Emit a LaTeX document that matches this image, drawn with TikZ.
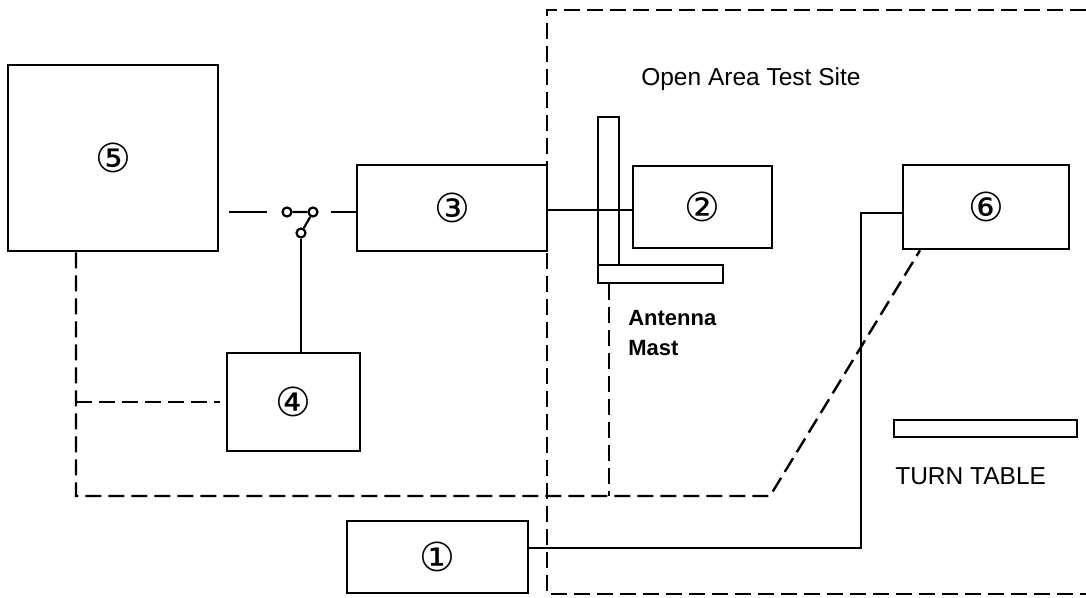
\documentclass[tikz,border=0pt]{standalone}
\usepackage{fontspec}
\setmainfont{Liberation Sans}
\newfontfamily\circfont{DejaVu Sans}
\usetikzlibrary{positioning}

\begin{document}
\begin{tikzpicture}[x=1pt,y=-1pt,line width=2.6pt,
    font=\fontsize{24.5}{30}\selectfont,
    wire/.style={line width=2.2pt},
    ctrl/.style={line width=2.4pt,dash pattern=on 16pt off 7pt}]
    \tikzstyle{unit}=[draw,rectangle,inner sep=0pt,font=\circfont\fontsize{40}{40}\selectfont]
    \tikzstyle{bar}=[draw,rectangle,inner sep=0pt]
    \tikzstyle{contact}=[draw,circle,line width=2.2pt,inner sep=0pt,minimum size=9pt]
    \tikzstyle{caption}=[inner sep=0pt,anchor=west]

    \useasboundingbox (0,0) rectangle (1086,597);

    % open area test site
    \draw[ctrl] (1086,10) -- (547,10) -- (547,594) -- (1086,594);

    \node[unit,minimum width=210pt,minimum height=186pt] (b5) at (113,158)   {⑤};
    \node[unit,minimum width=190pt,minimum height=86pt]  (b3) at (452,208)   {③};
    \node[unit,minimum width=139pt,minimum height=82pt]  (b2) at (702.5,207) {②};
    \node[unit,minimum width=166pt,minimum height=84pt]  (b6) at (986,207)   {⑥};
    \node[unit,minimum width=133pt,minimum height=98pt]  (b4) at (293.5,402) {④};
    \node[unit,minimum width=181pt,minimum height=72pt]  (b1) at (437.5,557) {①};

    \node[bar,minimum width=21pt,minimum height=148pt]  (mast) at (608.5,191) {};
    \node[bar,minimum width=125pt,minimum height=18pt]  (base) at (660.5,274) {};
    \node[bar,minimum width=183pt,minimum height=17pt]  (tt)   at (985.5,428.5) {};

    \node[caption]                  (site)    at (640,79)  {Open Area Test Site};
    \node[caption,align=left,font=\bfseries\fontsize{22}{30}\selectfont]
                                    (mastlbl) at (627,333) {Antenna\\Mast};
    \node[caption]                  (ttlbl)   at (894,476) {TURN TABLE};

    % switch
    \node[contact] (sa) at (287,212) {};
    \node[contact] (sb) at (313,212) {};
    \node[contact] (sc) at (301,233) {};
    \coordinate (sw)   at (229,212);
    \coordinate (swin) at (267,212);

    \draw[wire] (sw) -- (swin);
    \draw[wire] (sa) -- (sb) (sb) -- (sc);
    \draw[wire] ([xshift=12.5pt]sb.east) -- (b3.west |- sb);
    \draw[wire] (sc) -- (sc |- b4.north);
    \draw[wire] ([yshift=-2pt]b3.east) -- ([yshift=-2pt]b3.east -| b2.west);

    % control lines
    \coordinate (c5)   at (76,496);
    \coordinate (bend) at (770,496);
    \coordinate (foot) at ([xshift=12pt]base.south west);
    \draw[ctrl] ([xshift=-37pt]b5.south) -- (c5) -- (bend) -- ([xshift=-66pt]b6.south);
    \draw[ctrl] (c5 |- b4.west) -- ([xshift=-6pt]b4.west);
    \draw[ctrl] (foot) -- (foot |- c5);

    % cable
    \coordinate (cable) at (861,548);
    \draw[wire] ([yshift=-6pt]b6.west) -| (cable) -- ([yshift=9pt]b1.east);
\end{tikzpicture}
\end{document}
